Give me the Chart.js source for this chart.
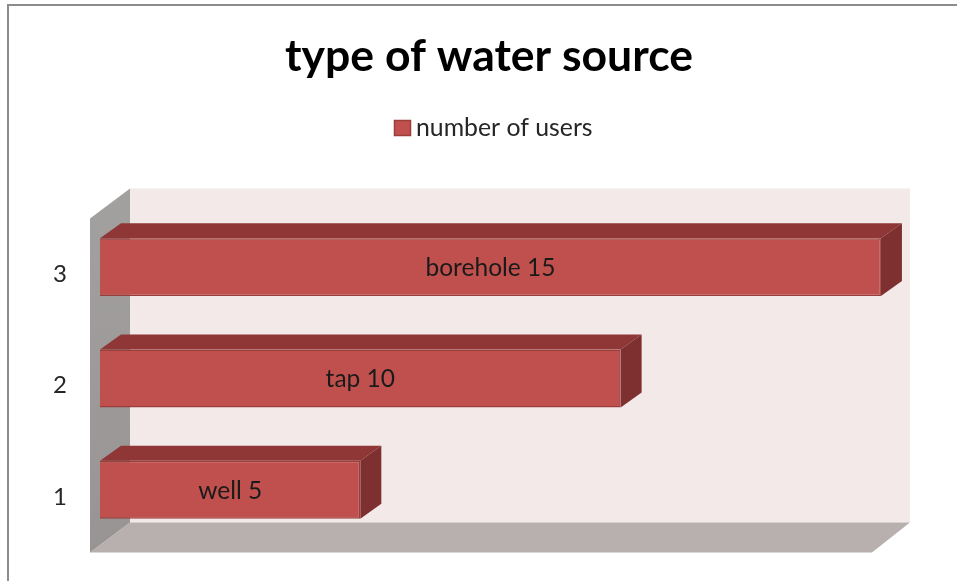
<!DOCTYPE html>
<html>
<head>
<meta charset="utf-8">
<style>
  html, body { margin: 0; padding: 0; background: #fff; overflow: hidden; }
  #wrap { position: relative; width: 957px; height: 581px; }
</style>
<script src="https://cdn.jsdelivr.net/npm/chart.js@4"></script>
</head>
<body>
<div id="wrap"><canvas id="chart" width="957" height="581"></canvas></div>
<script>
const categories = ["1", "2", "3"];
const sourceNames = ["well", "tap", "borehole"];
const users = [5, 10, 15];
const seriesLabel = "number of users";
const chartTitle = "type of water source";

const FONT = "Lato, Carlito, sans-serif";
const DEPTH_X = 21;
const DEPTH_Y = 15;

function poly(ctx, color, pts) {
  ctx.fillStyle = color;
  ctx.beginPath();
  pts.forEach((p, i) => (i ? ctx.lineTo(p[0], p[1]) : ctx.moveTo(p[0], p[1])));
  ctx.closePath();
  ctx.fill();
}

// the 3D box behind the bars, plus the top and right side of every bar
const box3dPlugin = {
  id: "box3d",
  beforeDatasetsDraw(chart) {
    const { ctx, chartArea, scales } = chart;
    const left = scales.x.getPixelForValue(0) - 10;
    const right = scales.x.getPixelForValue(15) - 9;
    const top = chartArea.top + 7;
    const bottom = chartArea.bottom + 7;
    const wx = 40, wy = 30;
    const backRight = right + 38;

    ctx.save();
    poly(ctx, "#f4e9e9", [[left + wx, top - wy], [backRight, top - wy], [backRight, bottom - wy], [left + wx, bottom - wy]]);
    poly(ctx, "#b8afaf", [[left, bottom], [left + wx, bottom - wy], [backRight, bottom - wy], [right, bottom]]);
    const wall = ctx.createLinearGradient(0, top - wy, 0, bottom);
    wall.addColorStop(0, "#a3a0a0");
    wall.addColorStop(1, "#989494");
    poly(ctx, wall, [[left, top], [left + wx, top - wy], [left + wx, bottom - wy], [left, bottom]]);

    chart.getDatasetMeta(0).data.forEach(bar => {
      const t = bar.y - bar.height / 2;
      const b = bar.y + bar.height / 2;
      poly(ctx, "#8e3736", [[bar.base, t], [bar.base + DEPTH_X, t - DEPTH_Y], [bar.x + DEPTH_X, t - DEPTH_Y], [bar.x, t]]);
      poly(ctx, "#7d302f", [[bar.x, t], [bar.x + DEPTH_X, t - DEPTH_Y], [bar.x + DEPTH_X, b - DEPTH_Y], [bar.x, b]]);
    });
    ctx.restore();
  },
  afterDatasetsDraw(chart) {
    const { ctx } = chart;
    ctx.save();
    ctx.fillStyle = "#1a1a1a";
    ctx.font = "24.5px " + FONT;
    ctx.textAlign = "center";
    ctx.textBaseline = "middle";
    chart.getDatasetMeta(0).data.forEach((bar, i) => {
      ctx.fillText(sourceNames[i] + " " + users[i], (bar.x + bar.base) / 2, bar.y + 1);
    });
    ctx.restore();
  }
};

// frame of the original picture and the tight legend
const framePlugin = {
  id: "frame",
  afterDraw(chart) {
    const { ctx } = chart;
    ctx.save();
    ctx.fillStyle = "#8c8c8c";
    ctx.fillRect(7, 4, 950, 2);
    ctx.fillRect(7, 4, 2, 577);

    ctx.fillStyle = "#c0504d";
    ctx.strokeStyle = "#9a3d3b";
    ctx.lineWidth = 1.5;
    ctx.fillRect(394.5, 120.5, 16, 15);
    ctx.strokeRect(394.5, 120.5, 16, 15);
    ctx.fillStyle = "#262626";
    ctx.font = "24.8px " + FONT;
    ctx.textAlign = "left";
    ctx.textBaseline = "middle";
    ctx.fillText(chart.data.datasets[0].label, 416, 128);
    ctx.restore();
  }
};

new Chart(document.getElementById("chart"), {
  type: "bar",
  plugins: [box3dPlugin, framePlugin],
  data: {
    labels: categories,
    datasets: [{
      label: seriesLabel,
      data: users,
      backgroundColor: "#c0504d",
      borderColor: "#9a3d3b",
      borderWidth: 1.5,
      barPercentage: 0.52,
      categoryPercentage: 1
    }]
  },
  options: {
    indexAxis: "y",
    responsive: false,
    animation: false,
    layout: { padding: { left: 45, right: 24, top: 0, bottom: 35.5 } },
    plugins: {
      legend: { display: false },
      tooltip: { enabled: false },
      title: {
        display: true,
        text: chartTitle,
        color: "#000",
        font: { family: FONT, size: 44.5, weight: "bold" },
        padding: { top: 30, bottom: 128 }
      }
    },
    scales: {
      x: { display: false, min: 0, max: 16 },
      y: {
        reverse: true,
        grid: { display: false, drawTicks: false },
        border: { display: false },
        afterFit(scale) {
          scale.width = 55;
          scale.paddingTop = 0;
          scale.paddingBottom = 0;
        },
        ticks: {
          color: "#262626",
          font: { family: FONT, size: 24 },
          padding: 33,
          labelOffset: 7
        }
      }
    }
  }
});
</script>
</body>
</html>
